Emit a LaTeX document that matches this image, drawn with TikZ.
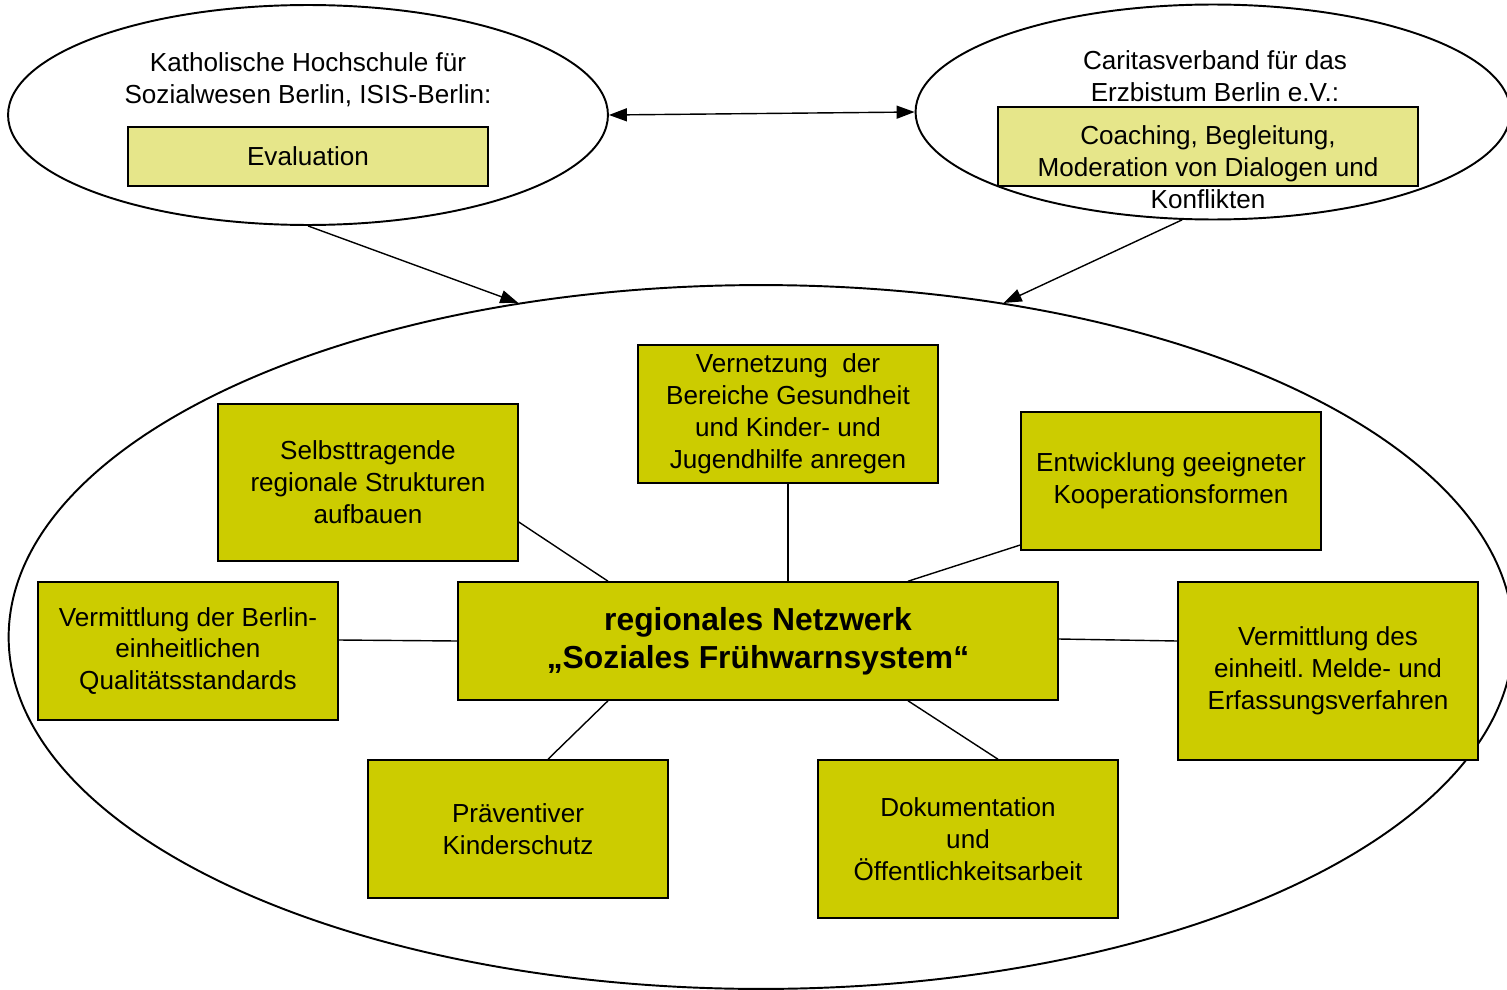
\documentclass[tikz,border=0pt]{standalone}
\usepackage{fontspec}
\setmainfont{Liberation Sans}
\frenchspacing
\usetikzlibrary{shapes.geometric,arrows.meta}
\definecolor{hellgelb}{RGB}{230,230,138}
\definecolor{olivgelb}{RGB}{204,204,0}
\tikzset{
  kreis/.style={draw, ellipse, line width=1.1pt, inner sep=0pt},
  hellbox/.style={draw, line width=0.9pt, fill=hellgelb, inner sep=0pt},
  feldbox/.style={draw, line width=0.9pt, fill=olivgelb, inner sep=0pt, align=center,
    minimum width=6cm, font=\fontsize{14.85}{18.2}\selectfont},
  verbindung/.style={line width=0.8pt},
  pfeil/.style={line width=0.8pt, -{Triangle[length=0.36cm,width=0.26cm]}}
}
\begin{document}
\begin{tikzpicture}[x=0.02cm, y=-0.02cm, font=\fontsize{14.85}{18.2}\selectfont]
\useasboundingbox (0,0) rectangle (1507,990);

\node[kreis, minimum width=30.1cm, minimum height=14.08cm] (netz) at (761,637) {};
\node[kreis, fill=white, minimum width=12cm, minimum height=4.4cm] (kath) at (308,115) {};
\node[kreis, fill=white, minimum width=11.9cm, minimum height=4.3cm] (cari) at (1213,112) {};

\node[align=center] (kathtext) at (308,80) {Katholische Hochschule für\\Sozialwesen Berlin, ISIS-Berlin:};
\node[hellbox, minimum width=7.2cm, minimum height=1.18cm] (eval) at (308,156.5) {Evaluation};

\node[align=center] (caritext) at (1215,76) {Caritasverband für das\\Erzbistum Berlin e.V.:};
\node[hellbox, minimum width=8.4cm, minimum height=1.58cm] (coach) at (1208,146.5) {};
\node[align=center] (coachtext) at (1208,167) {Coaching, Begleitung,\\Moderation von Dialogen und\\Konflikten};

\draw[pfeil, {Triangle[length=0.36cm,width=0.26cm]}-{Triangle[length=0.36cm,width=0.26cm]}] (kath.east) -- (cari.west);
\draw[pfeil] (kath.south) -- (netz.126);
\draw[pfeil] (cari.254) -- (netz.54.5);

\node[feldbox, minimum height=3.14cm] (selbst) at (368,482.5) {Selbsttragende\\regionale Strukturen\\aufbauen};
\node[feldbox, minimum height=2.76cm] (vernetz) at (788,414) {Vernetzung\ \ der\\Bereiche Gesundheit\\und Kinder- und\\Jugendhilfe anregen};
\node[feldbox, minimum height=2.76cm] (entw) at (1171,481) {Entwicklung geeigneter\\Kooperationsformen};
\node[feldbox, minimum height=2.76cm] (berlin) at (188,651) {Vermittlung der Berlin-\\einheitlichen\\Qualitätsstandards};
\node[feldbox, minimum width=12cm, minimum height=2.36cm, font=\fontsize{18.1}{21.6}\selectfont\bfseries] (zentrum) at (758,641) {regionales Netzwerk\\„Soziales Frühwarnsystem“};
\node[feldbox, minimum height=3.56cm] (melde) at (1328,671) {Vermittlung des\\einheitl. Melde- und\\Erfassungsverfahren};
\node[feldbox, minimum height=2.76cm] (praev) at (518,829) {Präventiver\\Kinderschutz};
\node[feldbox, minimum height=3.16cm] (doku) at (968,839) {Dokumentation\\und\\Öffentlichkeitsarbeit};

\draw[verbindung] (selbst.east |- 0,522) -- (zentrum.north -| 608,0);
\draw[verbindung] (vernetz.south) -- (zentrum.north -| vernetz.south);
\draw[verbindung] (entw.west |- 0,545) -- (zentrum.north -| 908,0);
\draw[verbindung] (berlin.east |- 0,640) -- (zentrum.west);
\draw[verbindung] (zentrum.east |- 0,639) -- (melde.west |- 0,641);
\draw[verbindung] (zentrum.south -| 608,0) -- (praev.north -| 548,0);
\draw[verbindung] (zentrum.south -| 908,0) -- (doku.north -| 998,0);
\end{tikzpicture}
\end{document}
